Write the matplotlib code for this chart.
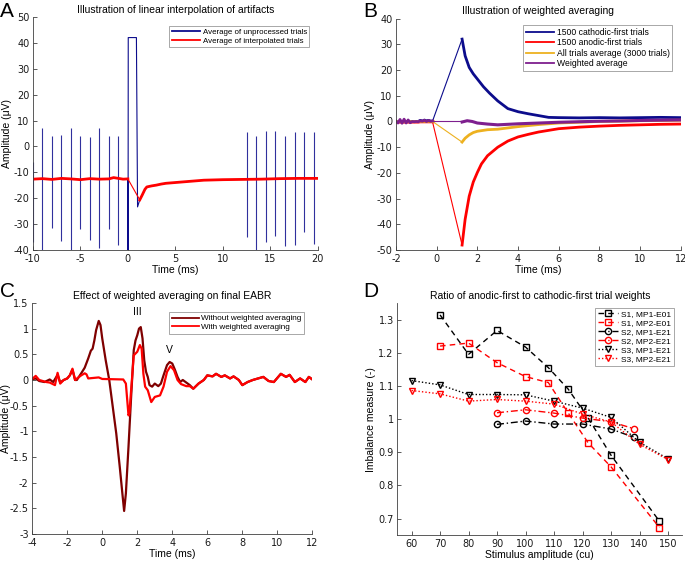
import numpy as np
import matplotlib
matplotlib.use('Agg')
import matplotlib.pyplot as plt
from matplotlib.ticker import FormatStrFormatter

plt.rcParams['font.family'] = ['Liberation Sans', 'DejaVu Sans']
plt.rcParams['axes.unicode_minus'] = False

# ---------------- panel A data ----------------
a_pre_t = [-10.0, -9.0, -8.0, -7.0, -6.0, -5.0, -4.0, -3.0, -2.0, -1.5, -1.0, -0.5, 0.0]
a_pre_v = [-12.6, -12.4, -12.7, -12.3, -12.5, -12.8, -12.4, -12.6, -12.5, -12.0, -12.3, -12.6, -12.5]
a_post_t = [1.25, 1.5, 1.8, 2.0, 2.5, 3.0, 3.5, 4.0, 5.0, 6.0, 7.0, 8.0, 9.0, 10.0, 12.0, 14.0, 16.0, 18.0, 20.0]
a_post_v = [-20.6, -18.8, -16.5, -15.6, -15.2, -14.9, -14.5, -14.2, -13.9, -13.6, -13.3, -13.0, -12.9, -12.8, -12.7, -12.6, -12.4, -12.3, -12.3]
a_rect_t = [0.0, 0.02, 0.04, 0.9, 1.02, 1.25]
a_rect_v = [-12.5, -48.0, 42.0, 42.0, -23.3, -20.6]
spike_t = [-10.0, -9.0, -8.0, -7.0, -6.0, -5.0, -4.0, -3.0, -2.0, -1.0,
           12.5, 13.5, 14.5, 15.5, 16.55, 17.55, 18.55, 19.55]
spike_top = [-6.0, 7.0, 4.0, 4.5, 7.0, 4.0, 3.5, 7.0, 4.0, 4.0,
             5.5, 4.0, 6.0, 6.0, 4.0, 5.5, 5.5, 5.5]
spike_bot = [-37.0, -41.0, -31.5, -36.5, -41.0, -32.0, -36.0, -39.0, -32.0, -38.0,
             -35.0, -41.0, -37.0, -34.5, -38.5, -38.0, -33.0, -37.5]

# ---------------- panel B data ----------------
b_pre_t = [-2.0, -1.9, -1.8, -1.7, -1.6, -1.5, -1.4, -1.3, -1.2, -1.1, -1.0,
           -0.9, -0.8, -0.7, -0.6, -0.5, -0.4, -0.3, -0.2]
wavg_pre = [0.2, -0.6, 0.8, -0.7, 0.9, -0.6, 0.6, -0.5, 0.0, -0.1, 0.0,
            -0.1, 0.3, 0.1, 0.5, 0.0, 0.4, 0.1, 0.2]
cath_pre = [0.0, 0.0, 0.0, 0.0, 0.0, 0.0, 0.0, 0.0, 0.0, 0.0, 0.0,
            0.1, 0.5, 0.2, 0.6, 0.3, 0.5, 0.2, 0.2]
anod_pre = [-0.3, -0.3, -0.3, -0.3, -0.3, -0.3, -0.3, -0.3, -0.3, -0.3, -0.3,
            -0.3, -0.2, -0.2, -0.2, -0.2, -0.2, -0.2, -0.2]
cath_t = [1.25, 1.4, 1.6, 1.8, 2.0, 2.3, 2.6, 3.0, 3.5, 4.0, 4.5, 5.0, 5.5, 6.0, 7.0, 8.0, 9.0, 10.0, 11.0, 12.0]
cath_v = [32.0, 25.5, 21.0, 18.5, 16.5, 13.5, 11.0, 8.0, 5.0, 3.8, 3.0, 2.3, 1.6, 1.5, 1.4, 1.5, 1.4, 1.5, 1.6, 1.5]
anod_t = [1.25, 1.4, 1.6, 1.8, 2.0, 2.2, 2.5, 3.0, 3.5, 4.0, 4.5, 5.0, 6.0, 7.0, 8.0, 9.0, 10.0, 11.0, 12.0]
anod_v = [-48.0, -38.0, -29.0, -23.5, -19.8, -16.5, -13.3, -10.0, -7.6, -6.0, -5.0, -4.1, -2.8, -2.2, -1.8, -1.5, -1.3, -1.1, -1.0]
all_t = [1.25, 1.4, 1.6, 1.8, 2.0, 2.5, 3.0, 3.5, 4.0, 5.0, 6.0, 8.0, 10.0, 12.0]
all_v = [-8.0, -6.5, -5.2, -4.3, -3.8, -3.2, -3.0, -2.5, -2.0, -1.2, -0.6, 0.0, 0.3, 0.5]
wavg_t = [1.25, 1.5, 1.75, 2.0, 2.5, 3.0, 3.5, 4.0, 5.0, 6.0, 7.0, 8.0, 9.0, 10.0, 11.0, 12.0]
wavg_v = [-0.2, 0.3, 0.0, -0.6, -1.0, -1.3, -1.1, -0.9, -0.6, -0.3, -0.1, 0.1, 0.2, 0.4, 0.5, 0.6]

# ---------------- panel C data ----------------
c_with_t = [-4.0, -3.8, -3.6, -3.2, -3.0, -2.7, -2.55, -2.4, -2.2, -2.0, -1.85, -1.7, -1.55,
            -1.4, -1.2, -1.0, -0.9, -0.8, -0.5, -0.2, 0.0, 1.2, 1.35, 1.5, 1.55, 1.65, 1.8,
            2.0, 2.15, 2.25, 2.35, 2.45, 2.6, 2.8, 3.0, 3.3, 3.5, 3.7, 3.9, 4.1, 4.3, 4.5,
            4.8, 5.0, 5.2, 5.5, 5.8, 6.0, 6.3, 6.5, 6.8, 7.0, 7.3, 7.5, 7.8, 8.0, 8.3, 8.6,
            8.9, 9.2, 9.5, 9.8, 10.2, 10.5, 10.7, 11.0, 11.3, 11.6, 11.8, 12.0]
c_with_v = [0.02, 0.08, 0.0, -0.04, -0.05, -0.1, 0.14, -0.07, 0.0, 0.03, 0.09, 0.22, 0.0,
            0.04, 0.09, 0.13, 0.11, 0.03, 0.04, 0.05, 0.02, 0.01, -0.07, -0.69, -0.65, -0.2, 0.48,
            0.55, 0.68, 0.61, 0.12, -0.13, -0.2, -0.43, -0.33, -0.3, -0.13, 0.16, 0.27, 0.19, 0.0, -0.08,
            -0.12, -0.12, -0.17, -0.07, 0.0, 0.09, 0.07, 0.12, 0.06, 0.09, 0.03, 0.07, 0.0, -0.1, -0.04, 0.0,
            0.03, 0.06, -0.02, -0.04, 0.12, 0.06, 0.1, -0.04, 0.03, -0.04, 0.06, 0.01]
c_wo_t = [-4.0, -3.8, -3.6, -3.3, -3.0, -2.8, -2.55, -2.4, -2.2, -2.0, -1.85, -1.7, -1.55, -1.45,
          -1.2, -1.0, -0.8, -0.65, -0.55, -0.45, -0.35, -0.2, -0.1, 0.0, 0.2, 0.4, 0.6, 0.8, 1.0,
          1.15, 1.25, 1.35, 1.5, 1.65, 1.8, 1.9, 2.0, 2.1, 2.2, 2.3, 2.4, 2.5, 2.6, 2.7, 2.85,
          3.0, 3.2, 3.35, 3.5, 3.7, 3.85, 4.0, 4.15, 4.3, 4.45, 4.6, 4.8, 5.0, 5.2]
c_wo_v = [0.015, 0.03, -0.02, -0.04, 0.01, -0.04, 0.1, -0.05, 0.0, 0.03, 0.09, 0.2, 0.0, 0.0,
          0.13, 0.24, 0.42, 0.57, 0.61, 0.77, 0.97, 1.15, 1.07, 0.81, 0.38, 0.0, -0.52, -1.04, -1.69,
          -2.21, -2.55, -2.21, -1.3, -0.33, 0.58, 0.77, 0.87, 1.0, 1.03, 0.81, 0.38, 0.16, 0.06, -0.1, -0.13,
          -0.07, -0.12, -0.07, 0.09, 0.29, 0.35, 0.32, 0.2, 0.06, -0.04, 0.0, -0.05, -0.1, -0.17]

# ---------------- panel D data ----------------
s1_x = [70, 80, 90, 100, 108, 115, 122, 130, 147]
s1_mp1 = [1.314, 1.195, 1.267, 1.217, 1.155, 1.090, 1.003, 0.891, 0.692]
s1_mp2 = [1.220, 1.229, 1.170, 1.128, 1.110, 1.018, 0.928, 0.856, 0.673]
s2_x = [90, 100, 110, 120, 130, 138]
s2_mp1 = [0.984, 0.994, 0.985, 0.985, 0.970, 0.945]
s2_mp2 = [1.019, 1.028, 1.018, 1.003, 0.992, 0.971]
s3_x = [60, 70, 80, 90, 100, 110, 120, 130, 140, 150]
s3_mp1 = [1.116, 1.103, 1.074, 1.074, 1.073, 1.054, 1.033, 1.005, 0.930, 0.880]
s3_mp2 = [1.086, 1.076, 1.054, 1.059, 1.054, 1.045, 1.015, 0.991, 0.924, 0.878]
d_labels = ['S1, MP1-E01', 'S1, MP2-E01', 'S2, MP1-E21', 'S2, MP2-E21', 'S3, MP1-E21', 'S3, MP2-E21']

navy = '#0c0c8c'
red = '#ff0000'
orange = '#edb120'
purple = '#7e1f8e'
darkred = '#7f0000'
axcol = '#404040'


def style(ax):
    for s in ['top', 'right']:
        ax.spines[s].set_visible(False)
    for s in ['left', 'bottom']:
        ax.spines[s].set_color(axcol)
        ax.spines[s].set_linewidth(0.6)
    ax.tick_params(direction='in', length=3, width=0.6, colors=axcol,
                   labelsize=7, labelcolor='#1a1a1a', pad=2.5)
    for t in ax.get_xticklabels() + ax.get_yticklabels():
        t.set_family('DejaVu Sans')


def leg(ax, loc, anchor, fs=5.7, hl=3.6):
    l = ax.legend(loc=loc, bbox_to_anchor=anchor, fontsize=fs, frameon=True, fancybox=False,
                  handlelength=hl, handletextpad=0.3, borderpad=0.3, labelspacing=0.15,
                  borderaxespad=0)
    l.get_frame().set_edgecolor('#808080')
    l.get_frame().set_linewidth(0.6)
    for h in l.get_lines():
        h.set_linewidth(1.3)
    return l


fig = plt.figure(figsize=(6.85, 5.61), dpi=100)
axA = fig.add_axes([0.048, 0.554, 0.416, 0.416])
axB = fig.add_axes([0.578, 0.554, 0.416, 0.413])
axC = fig.add_axes([0.047, 0.048, 0.409, 0.412])
axD = fig.add_axes([0.580, 0.046, 0.416, 0.414])

# ---- A ----
ax = axA
ax.vlines(spike_t, spike_bot, spike_top, color=navy, lw=0.8, alpha=0.85)
ax.plot(a_pre_t + a_rect_t + a_post_t, a_pre_v + a_rect_v + a_post_v, color=navy, lw=0.8,
        label='Average of unprocessed trials')
ax.plot(a_pre_t, a_pre_v, color=red, lw=2.0, label='Average of interpolated trials')
ax.plot([a_pre_t[-1], a_post_t[0]], [a_pre_v[-1], a_post_v[0]], color=red, lw=0.8)
ax.plot(a_post_t, a_post_v, color=red, lw=2.0)
ax.set_xlim(-10, 20)
ax.set_ylim(-40, 50)
ax.set_xticks(np.arange(-10, 21, 5))
ax.set_yticks(np.arange(-40, 51, 10))
ax.set_xlabel('Time (ms)', fontsize=7.5, labelpad=1)
ax.set_ylabel('Amplitude (\u03bcV)', fontsize=7.5, labelpad=1)
ax.set_title('Illustration of linear interpolation of artifacts', fontsize=7.5, pad=3)
style(ax)
leg(ax, 'upper right', (0.97, 0.96))

# ---- B ----
ax = axB
def trace(pre_v, t, v, c, lbl):
    ax.plot(b_pre_t, pre_v, color=c, lw=1.8, label=lbl)
    ax.plot([b_pre_t[-1], t[0]], [pre_v[-1], v[0]], color=c, lw=0.8)
    ax.plot(t, v, color=c, lw=2.0)

trace(cath_pre, cath_t, cath_v, navy, '1500 cathodic-first trials')
trace(anod_pre, anod_t, anod_v, red, '1500 anodic-first trials')
trace([0.0] * len(b_pre_t), all_t, all_v, orange, 'All trials average (3000 trials)')
ax.plot(b_pre_t, wavg_pre, color=purple, lw=2.0, label='Weighted average')
ax.plot([b_pre_t[-1], wavg_t[0]], [0.0, 0.0], color=purple, lw=0.8)
ax.plot(wavg_t, wavg_v, color=purple, lw=2.2)
ax.set_xlim(-2, 12)
ax.set_ylim(-50, 40)
ax.set_xticks(np.arange(-2, 13, 2))
ax.set_yticks(np.arange(-50, 41, 10))
ax.set_xlabel('Time (ms)', fontsize=7.5, labelpad=1)
ax.set_ylabel('Amplitude (\u03bcV)', fontsize=7.5, labelpad=1)
ax.set_title('Illustration of weighted averaging', fontsize=7.5, pad=3)
style(ax)
leg(ax, 'upper right', (0.97, 0.97), fs=6.2, hl=3.3)

# ---- C ----
ax = axC
k = [i for i, t in enumerate(c_with_t) if t > 5.2][0]
ax.plot(c_wo_t + c_with_t[k:], c_wo_v + c_with_v[k:],
        color=darkred, lw=1.6, label='Without weighted averaging')
ax.plot(c_with_t, c_with_v, color=red, lw=1.6, label='With weighted averaging')
ax.text(1.98, 1.22, 'III', fontsize=7.5, ha='center', va='bottom')
ax.text(3.82, 0.48, 'V', fontsize=7.5, ha='center', va='bottom')
ax.set_xlim(-4, 12)
ax.set_ylim(-3, 1.5)
ax.set_xticks(np.arange(-4, 13, 2))
ax.set_yticks(np.arange(-3, 1.51, 0.5))
ax.yaxis.set_major_formatter(FormatStrFormatter('%g'))
ax.set_xlabel('Time (ms)', fontsize=7.5, labelpad=1)
ax.set_ylabel('Amplitude (\u03bcV)', fontsize=7.5)
ax.yaxis.set_label_coords(-0.076, 0.5)
ax.set_title('Effect of weighted averaging on final EABR', fontsize=7.5, pad=3)
style(ax)
leg(ax, 'upper right', (0.97, 0.96), fs=5.9, hl=3.3)

# ---- D ----
ax = axD
mk = dict(markersize=4.5, markerfacecolor='none', markeredgewidth=1.0, lw=1.0)
ax.plot(s1_x, s1_mp1, ls=(0, (4, 3)), marker='s', color='k', label=d_labels[0], **mk)
ax.plot(s1_x, s1_mp2, ls=(0, (4, 3)), marker='s', color=red, label=d_labels[1], **mk)
ax.plot(s2_x, s2_mp1, ls=(0, (5, 2, 1, 2)), marker='o', color='k', label=d_labels[2], **mk)
ax.plot(s2_x, s2_mp2, ls=(0, (5, 2, 1, 2)), marker='o', color=red, label=d_labels[3], **mk)
ax.plot(s3_x, s3_mp1, ls=(0, (1, 1.5)), marker='v', color='k', label=d_labels[4], **mk)
ax.plot(s3_x, s3_mp2, ls=(0, (1, 1.5)), marker='v', color=red, label=d_labels[5], **mk)
ax.set_xlim(55, 155)
ax.set_ylim(0.65, 1.35)
ax.set_xticks(np.arange(60, 151, 10))
ax.set_yticks(np.arange(0.7, 1.31, 0.1))
ax.yaxis.set_major_formatter(FormatStrFormatter('%g'))
ax.set_xlabel('Stimulus amplitude (cu)', fontsize=7.5, labelpad=1)
ax.set_ylabel('Imbalance measure (-)', fontsize=7.5, labelpad=2)
ax.set_title('Ratio of anodic-first to cathodic-first trial weights', fontsize=7.5, pad=3)
style(ax)
lg = ax.legend(loc='upper right', bbox_to_anchor=(0.97, 0.98), fontsize=6, frameon=True,
               fancybox=False, handlelength=2.4, handletextpad=0.4, borderpad=0.3,
               labelspacing=0.15, borderaxespad=0)
lg.get_frame().set_edgecolor('#808080')
lg.get_frame().set_linewidth(0.6)

for lbl, x, y in [('A', 0.0, 0.997), ('B', 0.531, 0.997), ('C', 0.0, 0.497), ('D', 0.531, 0.497)]:
    fig.text(x, y, lbl, fontsize=15, ha='left', va='top')

fig.savefig('out.png', dpi=100)
